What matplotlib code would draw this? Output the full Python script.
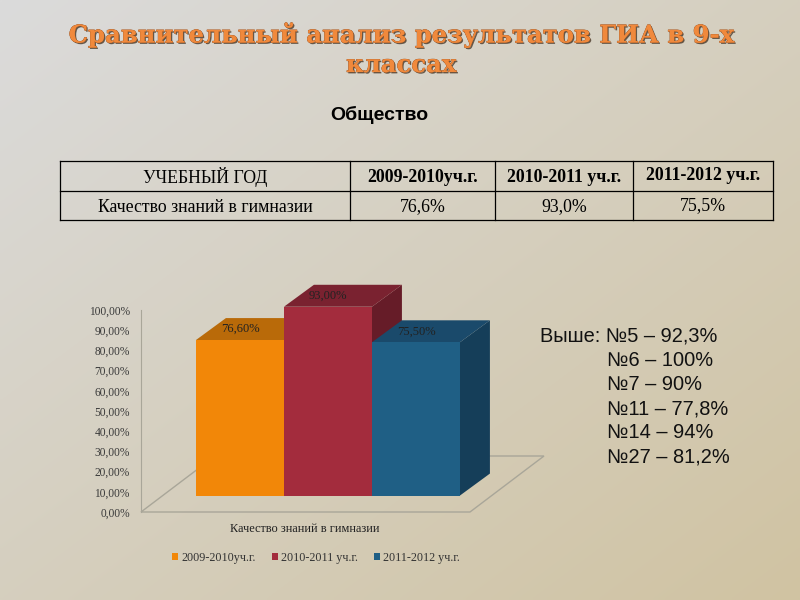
import numpy as np
import matplotlib
matplotlib.use("Agg")
import matplotlib.pyplot as plt
import matplotlib.patheffects as pe
from matplotlib.patches import Polygon

years = ["2009-2010уч.г.", "2010-2011 уч.г.", "2011-2012 уч.г."]
values = [76.6, 93.0, 75.5]
table_values = ["76,6%", "93,0%", "75,5%"]
category = "Качество знаний в гимназии"
y_ticks = [0, 10, 20, 30, 40, 50, 60, 70, 80, 90, 100]
front = ["#F28708", "#A32C3D", "#1F5F85"]
top = ["#B96A09", "#7A2230", "#1A4A6B"]
side = ["#B96A09", "#661C28", "#153E59"]
schools = ["Выше: №5 – 92,3%", "№6 – 100%", "№7 – 90%", "№11 – 77,8%", "№14 – 94%", "№27 – 81,2%"]

W, H = 800, 600
fig = plt.figure(figsize=(8, 6), dpi=100)


def axes_px(x0, y0, x1, y1):
    # pixel box, y counted from the top of the picture
    return fig.add_axes([x0 / W, 1 - y1 / H, (x1 - x0) / W, (y1 - y0) / H])


# background and everything placed in pixels
bg = fig.add_axes([0, 0, 1, 1])
yy, xx = np.mgrid[0:1:150j, 0:1:200j]
t = (xx + yy)[..., None] / 2
grad = (1 - t) * np.array([219, 219, 219]) + t * np.array([208, 195, 162])
bg.imshow(grad / 255, extent=[0, W, H, 0], aspect="auto", interpolation="bilinear")
bg.set_xlim(0, W)
bg.set_ylim(H, 0)
bg.axis("off")

shadow = [pe.withSimplePatchShadow(offset=(1, -1), shadow_rgbFace="#5a4a3a", alpha=0.9),
          pe.withStroke(linewidth=0.4, foreground="#8a4a20")]
bg.text(401, 35, "Сравнительный анализ результатов ГИА в 9-х", ha="center", va="center",
        family="DejaVu Serif", weight="bold", fontsize=17.5, color="#F0893C", path_effects=shadow)
bg.text(401, 65, "классах", ha="center", va="center",
        family="DejaVu Serif", weight="bold", fontsize=17.5, color="#F0893C", path_effects=shadow)
bg.text(379, 115, "Общество", ha="center", va="center",
        family="Liberation Sans", weight="bold", fontsize=14, color="black")

# table
col_x = [60, 350, 495, 633, 773]
row_y = [161, 191, 220]
for x in col_x:
    bg.plot([x, x], [row_y[0], row_y[-1]], color="black", lw=0.9)
for y in row_y:
    bg.plot([col_x[0], col_x[-1]], [y, y], color="black", lw=0.9)
bg.text(205, 177, "УЧЕБНЫЙ ГОД", ha="center", va="center", family="Liberation Serif", fontsize=12.8)
bg.text(205, 207, category, ha="center", va="center", family="Liberation Serif", fontsize=12.8)
head_y = [177, 177, 176]
val_y = [207, 207, 206]
for i in range(3):
    cx = (col_x[i + 1] + col_x[i + 2]) / 2
    bg.text(cx, head_y[i], years[i], ha="center", va="center", family="Liberation Serif",
            weight="bold", fontsize=12.8)
    bg.text(cx, val_y[i], table_values[i], ha="center", va="center", family="Liberation Serif", fontsize=12.8)

# floor of the 3d chart
bg.add_patch(Polygon([(141, 512), (470, 512), (544, 456), (215, 456)], closed=True,
                     facecolor="none", edgecolor="#a9a699", lw=1))

# value axis
ax_y = axes_px(141, 310, 300, 512)
ax_y.patch.set_alpha(0)
ax_y.set_ylim(0, 100)
ax_y.set_xticks([])
ax_y.set_yticks(y_ticks)
ax_y.set_yticklabels(["{},00%".format(v) for v in y_ticks], family="Liberation Serif",
                     fontsize=8.3, color="#3a3a3a")
ax_y.tick_params(axis="y", length=0, pad=8)
for s in ["top", "right", "bottom"]:
    ax_y.spines[s].set_visible(False)
ax_y.spines["left"].set_color("#a9a699")

# bars, with the depth faces added by hand
ax = axes_px(196, 292.5, 460, 495.5)
ax.patch.set_alpha(0)
ax.set_xlim(-0.5, 2.5)
ax.set_ylim(0, 100)
ax.axis("off")
dx, dy = 0.34, 10.8
for i, v in enumerate(values):
    l, r = i - 0.5, i + 0.5
    ax.add_patch(Polygon([(r, 0), (r + dx, dy), (r + dx, v + dy), (r, v)], closed=True,
                         facecolor=side[i], edgecolor="none", clip_on=False, zorder=i + 2))
    ax.add_patch(Polygon([(l, v), (r, v), (r + dx, v + dy), (l + dx, v + dy)], closed=True,
                         facecolor=top[i], edgecolor="none", clip_on=False, zorder=i + 2))
    ax.bar(i, v, width=1, color=front[i], label=years[i], zorder=i + 2.5)
    ax.text(i, v + dy / 2, "{:.2f}%".format(v).replace(".", ","), ha="center", va="center",
            family="Liberation Serif", fontsize=9, color="#222222", zorder=6)

bg.text(305, 529, category, ha="center", va="center", family="Liberation Serif", fontsize=8.9, color="#222222")
fig.legend(*ax.get_legend_handles_labels(), loc="center", bbox_to_anchor=(316 / W, 1 - 558 / H), ncol=3,
           frameon=False, prop={"family": "Liberation Serif", "size": 8.7}, labelcolor="#333333",
           handlelength=0.55, handleheight=0.55, handletextpad=0.25, columnspacing=1.3)

# schools list on the right
school_x = [540, 607, 607, 607, 607, 607]
school_y = [336, 361, 385, 409, 433, 457]
for i, s in enumerate(schools):
    bg.text(school_x[i], school_y[i], s, ha="left", va="center", family="Liberation Sans",
            fontsize=14.4, color="#111111")

fig.savefig("out.png", dpi=100)
